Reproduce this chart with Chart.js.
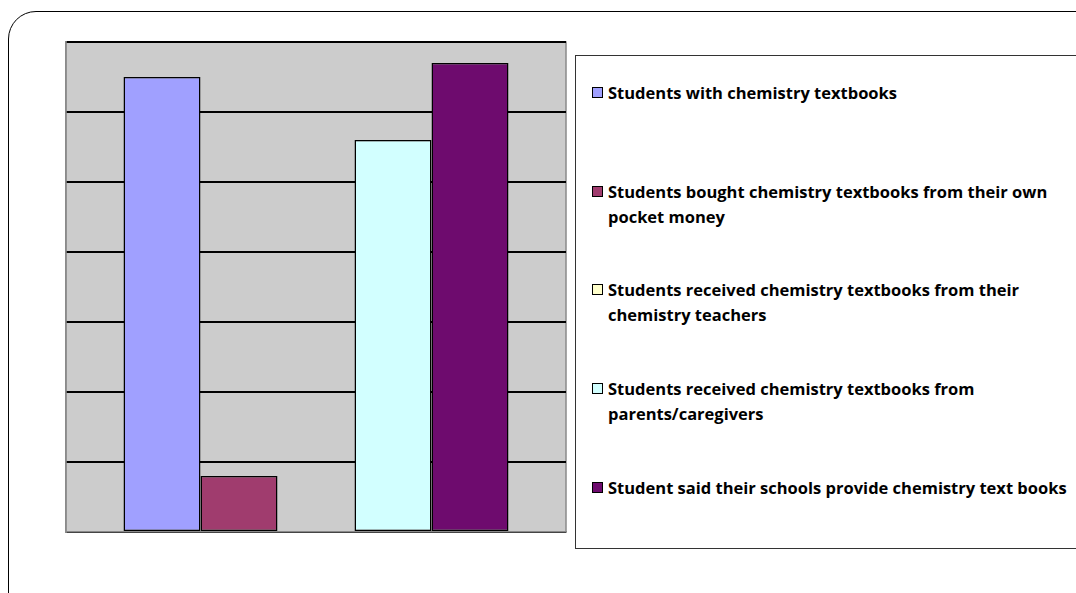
<!DOCTYPE html>
<html>
<head>
<meta charset="utf-8">
<script src="https://cdn.jsdelivr.net/npm/chart.js@4.4.0/dist/chart.umd.min.js"></script>
<style>
  body { margin: 0; background: #fff; overflow: hidden; }
  #frame {
    position: absolute; left: 8px; top: 11px; width: 1200px; height: 700px;
    border: 1.6px solid #000; border-radius: 28px;
  }
  #myChart { position: absolute; left: 0; top: 0; }
  #legend {
    position: absolute; left: 575px; top: 55px; width: 600px; height: 492px;
    border: 1px solid #333; background: #fff;
  }
  .item {
    position: absolute; left: 16px;
    font-family: "Open Sans", Lato, sans-serif; font-weight: bold; font-size: 16.5px;
    line-height: 25px; color: #000; white-space: pre-line; padding-left: 16px;
  }
  .box {
    position: absolute; left: 0; top: 7px; width: 9px; height: 9px;
    border: 1.5px solid #000;
  }
</style>
</head>
<body>
<div id="frame"></div>
<canvas id="myChart" width="1076" height="593"></canvas>
<div id="legend"></div>
<script>
var categories = [''];
var seriesNames = [
  'Students with chemistry textbooks',
  'Students bought chemistry textbooks from their own\npocket money',
  'Students received chemistry textbooks from their\nchemistry teachers',
  'Students received chemistry textbooks from\nparents/caregivers',
  'Student said their schools provide chemistry text books'
];
var seriesValues = [65, 8, 0, 56, 67];
var seriesColors = ['#a0a0ff', '#a03c6e', '#ffffcc', '#d2ffff', '#6e0b6e'];

var plotBg = {
  id: 'plotBg',
  beforeDraw: function(chart) {
    var a = chart.chartArea, c = chart.ctx;
    c.save();
    c.fillStyle = '#cccccc';
    c.fillRect(a.left, a.top, a.right - a.left, a.bottom - a.top);
    c.strokeStyle = '#8a8a8a';
    c.lineWidth = 1.5;
    c.strokeRect(a.left, a.top, a.right - a.left, a.bottom - a.top);
    c.restore();
  }
};

var ctx = document.getElementById('myChart').getContext('2d');
var barChart = new Chart(ctx, {
  type: 'bar',
  data: {
    labels: categories,
    datasets: seriesNames.map(function(name, i) {
      return {
        label: name,
        data: [seriesValues[i]],
        backgroundColor: seriesColors[i],
        borderColor: '#000',
        borderWidth: 1.5,
        borderSkipped: false
      };
    })
  },
  options: {
    responsive: false,
    animation: false,
    layout: { padding: { left: 66, top: 42, right: 510, bottom: 61 } },
    plugins: { legend: { display: false }, tooltip: { enabled: false } },
    datasets: { bar: { categoryPercentage: 0.77, barPercentage: 1 } },
    scales: {
      x: {
        grid: { display: false, drawTicks: false },
        ticks: { display: false },
        border: { color: '#8a8a8a', width: 1.5 }
      },
      y: {
        min: 0, max: 70,
        ticks: { display: false, stepSize: 10 },
        grid: { color: '#000', lineWidth: 2, drawTicks: false },
        border: { color: '#8a8a8a', width: 1.5 }
      }
    }
  },
  plugins: [plotBg]
});

var legend = document.getElementById('legend');
seriesNames.forEach(function(name, i) {
  var item = document.createElement('div');
  item.className = 'item';
  item.style.top = (24 + i * 98.7) + 'px';
  var box = document.createElement('span');
  box.className = 'box';
  box.style.background = seriesColors[i];
  item.appendChild(box);
  item.appendChild(document.createTextNode(name));
  legend.appendChild(item);
});
</script>
</body>
</html>
